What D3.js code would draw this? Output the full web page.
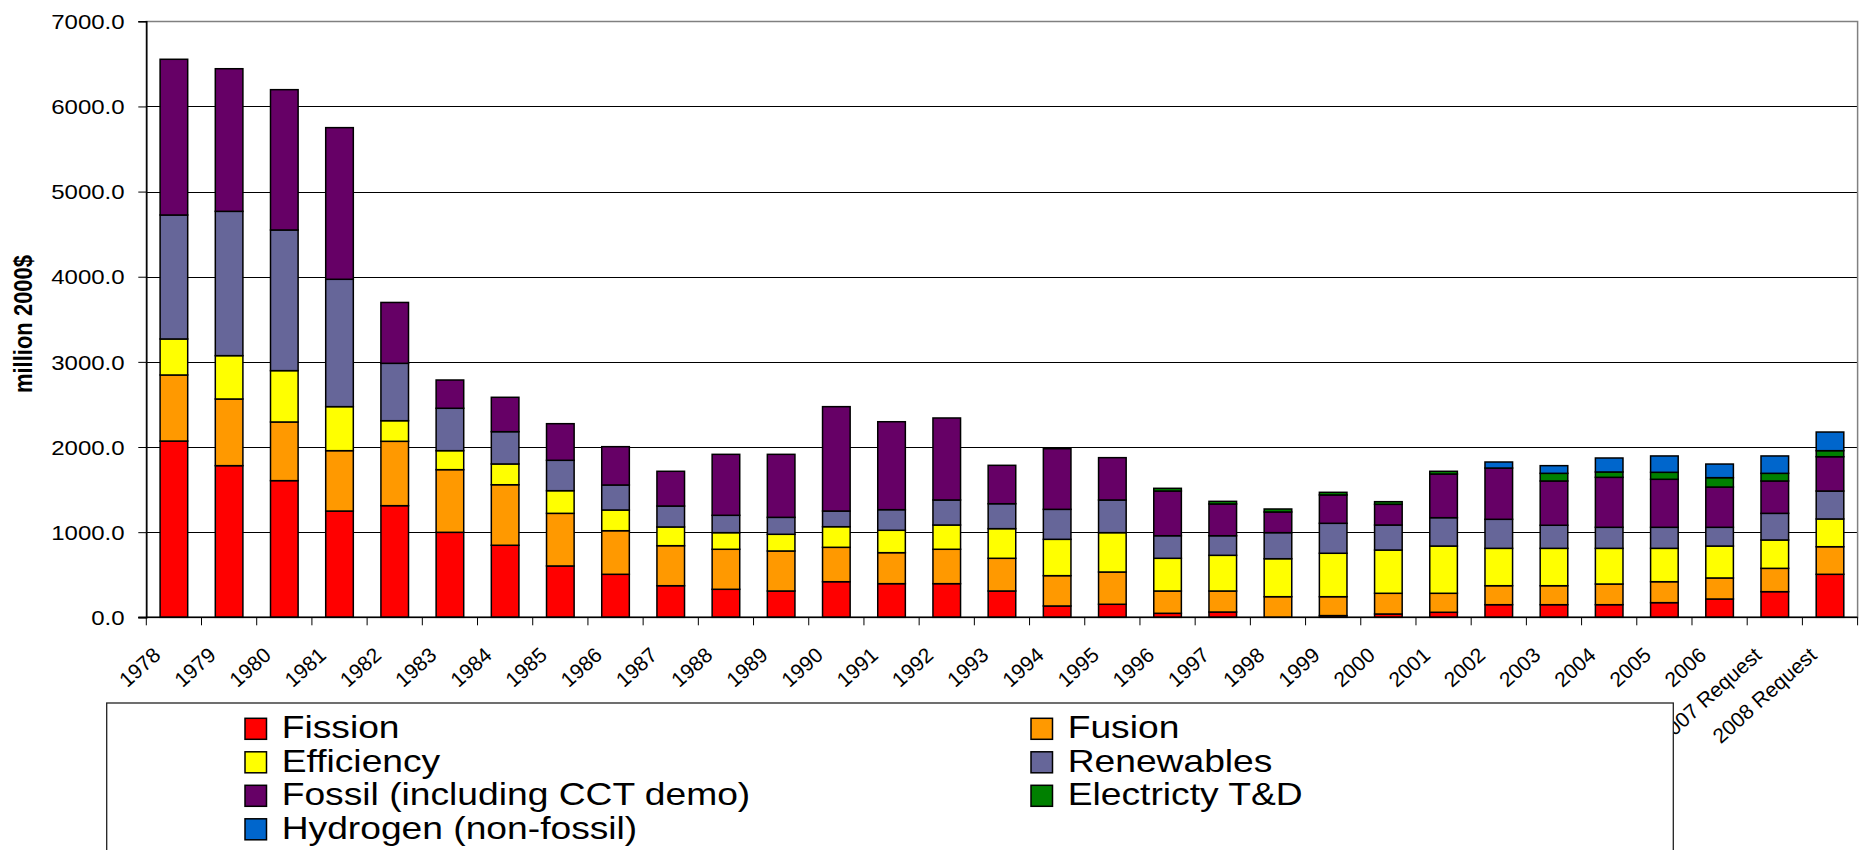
<!DOCTYPE html>
<html>
<head>
<meta charset="utf-8">
<script src="https://cdn.jsdelivr.net/npm/d3@7"></script>
<style>
  html, body { margin: 0; padding: 0; background: #fff; }
  svg { display: block; }
  text { font-family: "Liberation Sans", Arial, sans-serif; fill: #000; }
</style>
</head>
<body>
<svg id="chart" width="1860" height="850"></svg>
<script>
// ---------- DATA ----------
const years = ["1978","1979","1980","1981","1982","1983","1984","1985","1986","1987",
  "1988","1989","1990","1991","1992","1993","1994","1995","1996","1997","1998","1999",
  "2000","2001","2002","2003","2004","2005","2006","2007 Request","2008 Request"];

const fission     = [2070,1781,1605,1248,1311,998,846,603,505,371,329,309,418,395,395,309,133,153,47,62,0,20,39,59,148,148,148,172,215,301,505];
const fusion      = [776,783,689,709,756,736,711,618,512,470,470,470,404,364,404,384,356,379,262,247,242,222,243,223,223,223,243,246,247,274,324];
const efficiency  = [423,509,603,517,242,223,244,266,243,220,195,196,242,263,285,348,427,462,384,419,446,510,508,555,439,439,419,392,375,333,326];
const renewables  = [1456,1695,1652,1496,674,498,379,357,294,246,204,199,184,242,294,293,352,384,265,230,306,352,294,333,341,271,247,247,220,313,328];
const fossil      = [1829,1675,1648,1781,715,332,404,430,450,408,716,740,1226,1033,963,451,712,497,525,373,243,333,243,513,602,520,587,564,473,380,403];
const electricity = [0,0,0,0,0,0,0,0,0,0,0,0,0,0,0,0,0,0,32,31,35,31,31,32,0,90,63,82,110,90,71];
const hydrogen    = [0,0,0,0,0,0,0,0,0,0,0,0,0,0,0,0,0,0,0,0,0,0,0,0,71,90,164,192,160,204,219];

const seriesNames  = ["Fission","Fusion","Efficiency","Renewables","Fossil (including CCT demo)","Electricty T&D","Hydrogen (non-fossil)"];
const seriesValues = [fission, fusion, efficiency, renewables, fossil, electricity, hydrogen];
const seriesColors = ["#FF0000","#FF9900","#FFFF00","#666699","#660066","#008000","#0066CC"];

const yTicks = [0,1000,2000,3000,4000,5000,6000,7000];
const yLabel = "million 2000$";

// ---------- LAYOUT ----------
const svg = d3.select("#chart");
const L = 146.3, R = 1857.6, T = 21.3, B = 617.3;
const SX = 1.2; // horizontal text stretch of the original

const x = d3.scaleBand().domain(years).range([L, R]).paddingInner(0.5).paddingOuter(0.25);
const y = d3.scaleLinear().domain([0, 7000]).range([B, T]);

// build stacked table
const table = years.map((yr, i) => {
  const row = { year: yr };
  seriesNames.forEach((s, k) => row[s] = seriesValues[k][i]);
  return row;
});
const stacked = d3.stack().keys(seriesNames)(table);

// gridlines
svg.append("g").selectAll("line").data(yTicks.filter(v => v > 0 && v < 7000)).join("line")
  .attr("x1", L).attr("x2", R)
  .attr("y1", d => Math.round(y(d)) + 0.5).attr("y2", d => Math.round(y(d)) + 0.5)
  .attr("stroke", "#000").attr("stroke-width", 1);

// plot border (top / right gray)
svg.append("rect").attr("x", L).attr("y", Math.round(T) + 0.5)
  .attr("width", R - L).attr("height", B - T)
  .attr("fill", "none").attr("stroke", "#808080").attr("stroke-width", 1.5);

// bars
svg.append("g").selectAll("g").data(stacked).join("g")
  .attr("fill", (d, i) => seriesColors[i])
  .selectAll("rect").data(d => d.filter(p => p[1] - p[0] > 0)).join("rect")
  .attr("x", d => x(d.data.year))
  .attr("width", x.bandwidth())
  .attr("y", d => y(d[1]))
  .attr("height", d => y(d[0]) - y(d[1]))
  .attr("stroke", "#000").attr("stroke-width", 1.5);

// y axis
const yAxis = d3.axisLeft(y).tickValues(yTicks).tickSize(8).tickFormat(d3.format(".1f"));
const gy = svg.append("g").attr("transform", `translate(${L},0)`).call(yAxis);
gy.select(".domain").attr("stroke", "#000").attr("stroke-width", 1.5);
gy.selectAll(".tick line").attr("stroke", "#000");
gy.selectAll(".tick text").remove();
gy.selectAll(".tick").append("text")
  .attr("transform", `translate(-21.7,0) scale(${SX},1)`)
  .attr("text-anchor", "end").attr("dy", "0.36em")
  .style("font-size", "20px").text(d => d3.format(".1f")(d));

// x axis
const step = x.step();
svg.append("line").attr("x1", L - 8).attr("x2", R).attr("y1", B).attr("y2", B)
  .attr("stroke", "#000").attr("stroke-width", 1.5);
svg.append("g").selectAll("line").data(d3.range(years.length + 1)).join("line")
  .attr("x1", k => L + k * step).attr("x2", k => L + k * step)
  .attr("y1", B).attr("y2", B + 8).attr("stroke", "#000").attr("stroke-width", 1);

svg.append("g").selectAll("text").data(years).join("text")
  .attr("transform", d => `translate(${x(d) + x.bandwidth() / 2 - 12},657) rotate(-42)`)
  .attr("text-anchor", "end")
  .style("font-size", "21px")
  .text(d => d);

// y label
svg.append("text")
  .attr("transform", `translate(32,324) scale(${SX},1) rotate(-90)`)
  .attr("text-anchor", "middle")
  .style("font-size", "22px").style("font-weight", "bold")
  .text(yLabel);

// legend
const lg = svg.append("g");
lg.append("rect").attr("x", 106.7).attr("y", 703).attr("width", 1673.3 - 106.7).attr("height", 200)
  .attr("fill", "#fff").attr("stroke", "#222").attr("stroke-width", 1.3);
const legendOrder = [0,1,2,3,4,5,6];
const colX = [245, 1031];
const items = lg.selectAll("g.item").data(legendOrder).join("g").attr("class", "item")
  .attr("transform", (k, i) => `translate(${colX[i % 2]},${718.3 + Math.floor(i / 2) * 33.5})`);
items.append("rect").attr("width", 21.5).attr("height", 21)
  .attr("fill", k => seriesColors[k]).attr("stroke", "#000").attr("stroke-width", 1.5);
items.append("text")
  .attr("transform", `translate(36.7,20) scale(${SX},1)`)
  .style("font-size", "31px")
  .text(k => seriesNames[k]);
</script>
</body>
</html>
